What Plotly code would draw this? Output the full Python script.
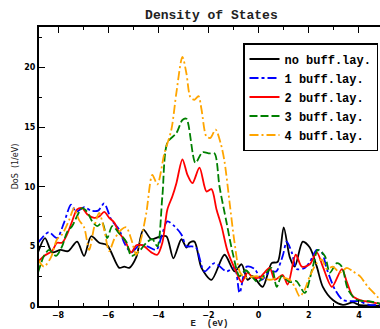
import plotly.graph_objects as go

# Energy grid points (eV) and DoS values (1/eV) per system
e_none = [-8.8, -8.52, -8.24, -7.9, -7.6, -7.24, -6.96, -6.68, -6.36, -6.04, -5.56, -5.36, -5.16,
          -4.88, -4.6, -4.28, -3.96, -3.68, -3.4, -3.08, -2.88, -2.76, -2.56, -2.28, -1.88, -1.36,
          -0.96, -0.68, -0.44, -0.24, 0.16, 0.52, 0.76, 1.0, 1.24, 1.44, 1.76, 2.04, 2.32, 2.56,
          2.96, 3.36, 3.76, 4.0, 4.4, 4.85]
dos_none = [4.5, 5.7, 4.5, 4.7, 4.6, 5.4, 4.2, 5.85, 5.3, 5.1, 3.2, 3.3, 3.2,
            4.1, 6.4, 5.6, 5.8, 5.85, 4.0, 5.6, 4.9, 5.3, 5.4, 3.2, 2.2, 4.3,
            2.9, 3.5, 2.2, 2.5, 1.6, 3.6, 3.7, 6.6, 4.1, 3.3, 5.4, 4.9, 3.3, 1.6,
            0.5, 0.1, 0.3, 0.1, 0.05, 0.0]

e_one = [-8.8, -8.56, -8.36, -8.04, -7.76, -7.48, -7.28, -6.96, -6.68, -6.4, -6.16, -5.88, -5.56,
         -5.36, -5.08, -4.76, -4.44, -4.08, -3.88, -3.64, -3.36, -3.08, -2.88, -2.7, -2.5, -2.16,
         -1.76, -1.28, -0.96, -0.76, -0.48, -0.16, 0.12, 0.44, 0.7, 0.96, 1.12, 1.32, 1.52, 1.84,
         2.04, 2.32, 2.52, 2.72, 3.04, 3.36, 3.76, 4.0, 4.4, 4.85]
dos_one = [5.3, 5.9, 6.2, 5.7, 7.0, 8.5, 7.9, 8.3, 8.0, 8.0, 8.6, 7.25, 6.4,
           5.3, 4.5, 5.1, 5.0, 4.7, 5.8, 7.1, 6.7, 6.0, 5.0, 5.0, 4.9, 2.9,
           3.6, 2.9, 3.2, 1.1, 3.3, 3.1, 2.2, 2.9, 2.9, 4.2, 5.4, 4.5, 3.1, 3.2,
           3.7, 4.7, 4.5, 3.1, 1.4, 0.5, 0.4, 0.4, 0.1, 0.1]

e_two = [-8.8, -8.56, -8.24, -8.04, -7.84, -7.64, -7.44, -7.24, -7.04, -6.84, -6.56, -6.36, -6.16,
         -5.96, -5.76, -5.56, -5.36, -5.08, -4.88, -4.64, -4.28, -4.04, -3.84, -3.64, -3.44, -3.28,
         -3.04, -2.84, -2.64, -2.36, -2.08, -1.88, -1.68, -1.48, -1.24, -0.88, -0.68, -0.44, -0.24,
         0.04, 0.44, 0.64, 0.96, 1.16, 1.48, 1.72, 2.04, 2.32, 2.56, 2.92, 3.32, 3.52, 3.76, 4.04,
         4.4, 4.85]
dos_two = [3.7, 4.2, 4.6, 5.3, 5.3, 6.0, 7.1, 8.1, 8.2, 7.7, 7.4, 7.5, 7.9,
           7.4, 7.0, 6.1, 5.6, 4.5, 5.1, 5.1, 4.5, 4.3, 5.3, 8.1, 9.2, 10.3,
           12.3, 11.0, 10.3, 11.6, 9.6, 9.8, 8.1, 6.7, 4.6, 2.8, 2.0, 2.8, 2.4,
           2.4, 3.2, 2.2, 2.6, 1.8, 4.3, 3.3, 3.5, 4.5, 3.3, 1.6, 3.1, 2.0, 0.8, 0.5,
           0.35, 0.2]

e_three = [-8.8, -8.56, -8.36, -8.08, -7.84, -7.64, -7.44, -7.04, -6.84, -6.64, -6.44, -6.24, -6.04,
           -5.84, -5.56, -5.28, -5.08, -4.76, -4.48, -4.24, -4.04, -3.84, -3.64, -3.28, -3.04, -2.88,
           -2.52, -2.24, -1.96, -1.76, -1.56, -1.28, -1.04, -0.76, -0.52, -0.28, -0.04, 0.24, 0.52,
           0.72, 0.92, 1.24, 1.5, 1.84, 2.16, 2.36, 2.64, 2.84, 3.12, 3.32, 3.56, 3.92, 4.4, 4.85]
dos_three = [2.8, 4.2, 4.7, 4.2, 5.0, 6.2, 6.7, 8.2, 7.9, 7.1, 6.7, 7.0, 5.7,
             6.7, 6.1, 5.4, 4.2, 4.6, 5.3, 5.6, 5.0, 9.2, 13.7, 14.5, 15.6, 15.7,
             12.0, 12.9, 12.8, 12.8, 10.0, 7.0, 4.5, 2.5, 3.0, 2.5, 2.0, 2.6, 3.2,
             1.6, 2.5, 2.0, 2.1, 1.1, 3.3, 4.7, 4.2, 2.8, 3.6, 3.3, 1.4, 0.5, 0.4, 0.2]

e_four = [-8.8, -8.56, -8.28, -8.04, -7.84, -7.56, -7.36, -7.16, -6.96, -6.76, -6.56, -6.36, -6.16,
          -5.96, -5.76, -5.48, -5.28, -5.08, -4.88, -4.68, -4.48, -4.24, -4.04, -3.76, -3.48, -3.28,
          -3.04, -2.88, -2.72, -2.56, -2.4, -2.28, -2.08, -1.92, -1.72, -1.52, -1.36, -1.16, -0.96,
          -0.76, -0.56, -0.08, 0.44, 0.84, 1.24, 1.44, 1.64, 1.84, 2.04, 2.32, 2.52, 2.72, 2.96,
          3.24, 3.52, 3.76, 4.04, 4.36, 4.64, 4.85]
dos_four = [3.9, 3.3, 4.1, 5.6, 6.0, 7.2, 8.2, 7.2, 6.6, 4.7, 6.6, 7.8, 6.4,
            4.6, 5.6, 6.4, 6.6, 5.6, 4.3, 5.7, 7.8, 11.0, 10.2, 12.8, 14.8, 17.9,
            20.9, 19.5, 17.5, 17.3, 17.6, 16.5, 14.2, 14.1, 14.8, 13.7, 12.1, 8.7, 5.3,
            2.9, 2.4, 2.5, 2.2, 2.4, 2.2, 1.6, 0.8, 1.4, 2.5, 3.6, 3.9, 3.1, 3.3,
            2.8, 3.2, 2.9, 2.5, 1.6, 1.0, 0.5]

names = ["no buff.lay.", "1 buff.lay.", "2 buff.lay.", "3 buff.lay.", "4 buff.lay."]
colors = ["black", "blue", "red", "green", "orange"]
dashes = ["solid", "dashdot", "solid", "8px,3px", "9px,3px,2px,3px"]
series = [(e_none, dos_none), (e_one, dos_one), (e_two, dos_two),
          (e_three, dos_three), (e_four, dos_four)]

fig = go.Figure()
for (e, d), name, col, dash in zip(series, names, colors, dashes):
    fig.add_trace(go.Scatter(
        x=e, y=d, mode="lines", name=name,
        line=dict(color=col, width=1.8, dash=dash, shape="spline", smoothing=0.8),
    ))

mono = "Liberation Mono"
tickfont = dict(family="DejaVu Sans", size=8, color="black", weight="bold")

fig.update_layout(
    width=380, height=329,
    margin=dict(l=39, r=0, t=27, b=23),
    paper_bgcolor="white", plot_bgcolor="white",
    title=dict(text="<b>Density of States</b>", x=(39 + 380) / 2 / 380 + 0.005, xanchor="center",
               y=1 - 14 / 329, yanchor="middle",
               font=dict(family=mono, size=13, color="#222")),
    showlegend=True,
    legend=dict(x=(378 - 39) / 341, y=(306 - 43) / 279, xanchor="right", yanchor="top",
                bgcolor="white", bordercolor="black", borderwidth=1.5,
                font=dict(family=mono, size=12, color="black", weight="bold"),
                tracegroupgap=0, itemwidth=30),
)

fig.update_xaxes(
    range=[-8.76, 4.84], showgrid=False, zeroline=False,
    showline=True, linecolor="black", linewidth=2, mirror="ticks",
    ticks="inside", ticklen=6, tickwidth=1.2, tickcolor="black",
    tick0=-8, dtick=2, tickfont=tickfont,
    minor=dict(ticks="inside", ticklen=3, dtick=1, tickcolor="black", tickwidth=1),
    title=dict(text="<b>E  (eV)</b>", font=dict(family=mono, size=9, color="#222"), standoff=4),
)
fig.update_yaxes(
    range=[0, 23.4], showgrid=False, zeroline=False,
    showline=True, linecolor="black", linewidth=2,
    ticks="inside", ticklen=6, tickwidth=1.2, tickcolor="black",
    tick0=0, dtick=5, tickfont=tickfont,
    minor=dict(ticks="inside", ticklen=3, dtick=2.5, tickcolor="black", tickwidth=1),
    title=dict(text="DoS  (1/eV)", font=dict(family="DejaVu Sans", size=8, color="#222"), standoff=4),
)

fig.write_html("out.html")
